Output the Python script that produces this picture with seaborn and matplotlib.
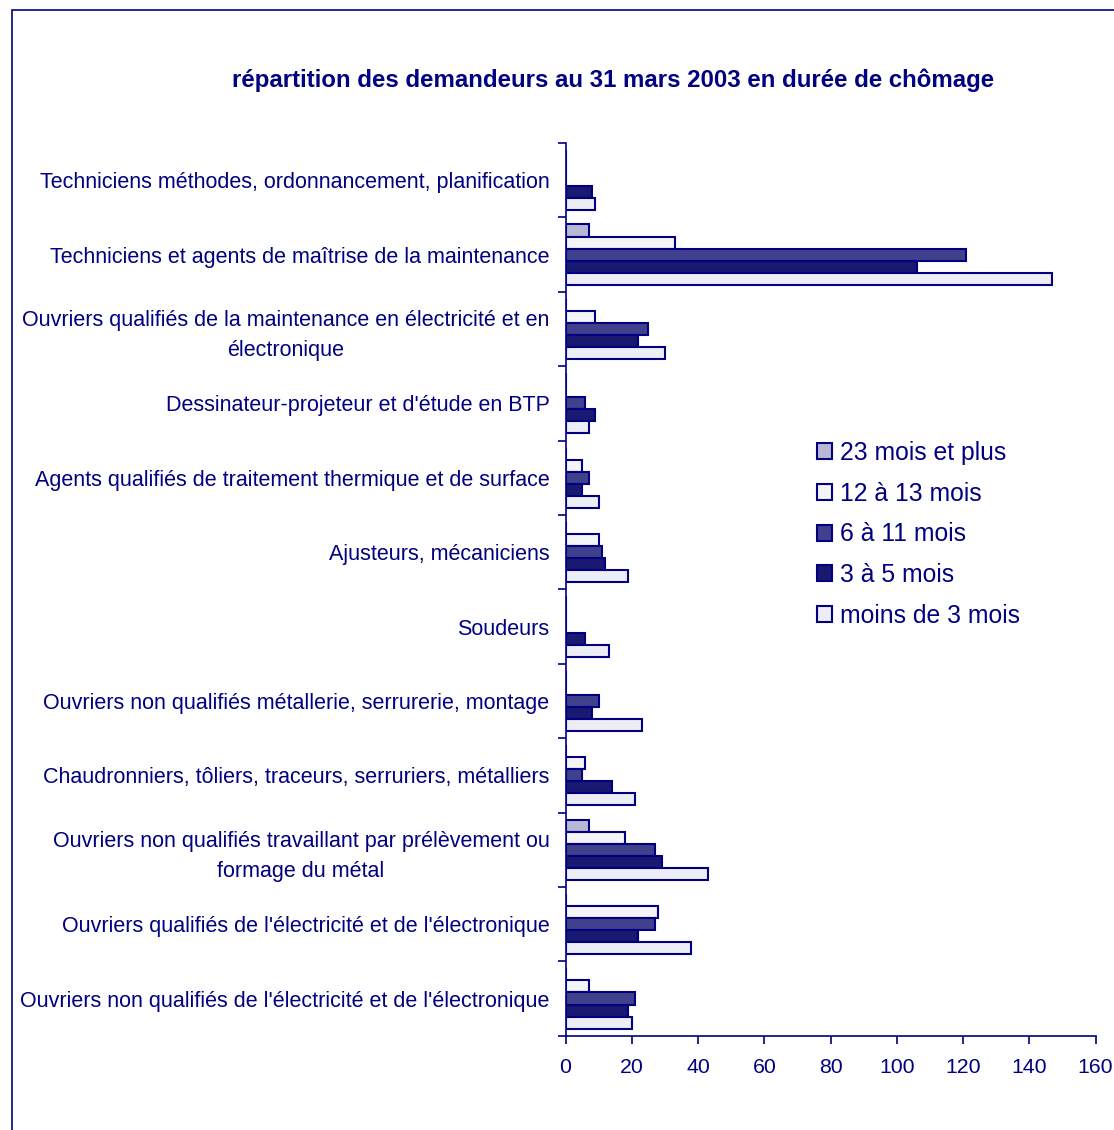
import numpy as np
import pandas as pd
import matplotlib
matplotlib.use("Agg")
import matplotlib.pyplot as plt
import seaborn as sns
from matplotlib.patches import Rectangle

# Données
categories = [
    "Techniciens méthodes, ordonnancement, planification",
    "Techniciens et agents de maîtrise de la maintenance",
    "Ouvriers qualifiés de la maintenance en électricité et en\nélectronique",
    "Dessinateur-projeteur et d'étude en BTP",
    "Agents qualifiés de traitement thermique et de surface",
    "Ajusteurs, mécaniciens",
    "Soudeurs",
    "Ouvriers non qualifiés métallerie, serrurerie, montage",
    "Chaudronniers, tôliers, traceurs, serruriers, métalliers",
    "Ouvriers non qualifiés travaillant par prélèvement ou\nformage du métal",
    "Ouvriers qualifiés de l'électricité et de l'électronique",
    "Ouvriers non qualifiés de l'électricité et de l'électronique",
]
series = ["23 mois et plus", "12 à 13 mois", "6 à 11 mois", "3 à 5 mois", "moins de 3 mois"]
v_23_plus = [0, 7, 0, 0, 0, 0, 0, 0, 0, 7, 0, 0]
v_12_13 = [0, 33, 9, 0, 5, 10, 0, 0, 6, 18, 28, 7]
v_6_11 = [0, 121, 25, 6, 7, 11, 0, 10, 5, 27, 27, 21]
v_3_5 = [8, 106, 22, 9, 5, 12, 6, 8, 14, 29, 22, 19]
v_moins_3 = [9, 147, 30, 7, 10, 19, 13, 23, 21, 43, 38, 20]
colors = ["#B3B3D9", "#F4F4F9", "#333399", "#0A0A80", "#ECECF6"]

navy = "#000080"

rows = []
for s, vals in zip(series, [v_23_plus, v_12_13, v_6_11, v_3_5, v_moins_3]):
    for c, v in zip(categories, vals):
        rows.append({"categorie": c, "duree": s, "valeur": v})
df = pd.DataFrame(rows)

sns.set_style("white")
plt.rcParams["font.family"] = ["Liberation Sans", "DejaVu Sans"]

fig = plt.figure(figsize=(11.14, 11.30), dpi=100)
ax = fig.add_axes([565.5 / 1114, 1 - 1035.7 / 1130, 530 / 1114, (1035.7 - 143) / 1130])

sns.barplot(data=df, y="categorie", x="valeur", hue="duree", order=categories,
            hue_order=series, palette=dict(zip(series, colors)), orient="h",
            width=0.81, edgecolor=navy, linewidth=1.5, ax=ax, legend=True)

ax.set_xlim(0, 160)
ax.set_ylim(len(categories) - 0.5, -0.5)
ax.set_xticks(np.arange(0, 161, 20))
ax.set_xlabel("")
ax.set_ylabel("")

for side in ["top", "right"]:
    ax.spines[side].set_visible(False)
for side in ["left", "bottom"]:
    ax.spines[side].set_color(navy)
    ax.spines[side].set_linewidth(1.2)

ax.tick_params(axis="x", bottom=True, colors=navy, labelsize=15.3, length=6, width=1.2,
               direction="out", pad=10)
ax.tick_params(axis="y", which="major", left=True, length=0, labelsize=15.5,
               labelcolor=navy, pad=11.5)
ax.set_yticks(np.arange(-0.5, len(categories), 1), minor=True)
ax.tick_params(axis="y", which="minor", left=True, length=6, width=1.2, color=navy,
               direction="out")
for lab in ax.get_yticklabels():
    lab.set_multialignment("center")
    lab.set_linespacing(1.55)

# Légende
handles, labels = ax.get_legend_handles_labels()
ax.legend(handles, labels, loc="upper left", bbox_to_anchor=(817 / 1114, 1 - 441 / 1130),
          bbox_transform=fig.transFigure, frameon=False, fontsize=17.8, labelcolor=navy,
          handlelength=0.6, handleheight=0.6, handletextpad=0.35, labelspacing=0.675,
          borderaxespad=0, borderpad=0)

fig.text(613 / 1114, 1 - 80 / 1130, "répartition des demandeurs au 31 mars 2003 en durée de chômage",
         ha="center", va="center", fontsize=17.3, fontweight="bold", color=navy)

# Cadre extérieur
fig.patches.append(Rectangle((11.5 / 1114, -0.05), 1.2, 1 - 10 / 1130 + 0.05,
                             transform=fig.transFigure, fill=False, edgecolor=navy,
                             linewidth=1.2, clip_on=False))

fig.savefig("out.png", dpi=100)
